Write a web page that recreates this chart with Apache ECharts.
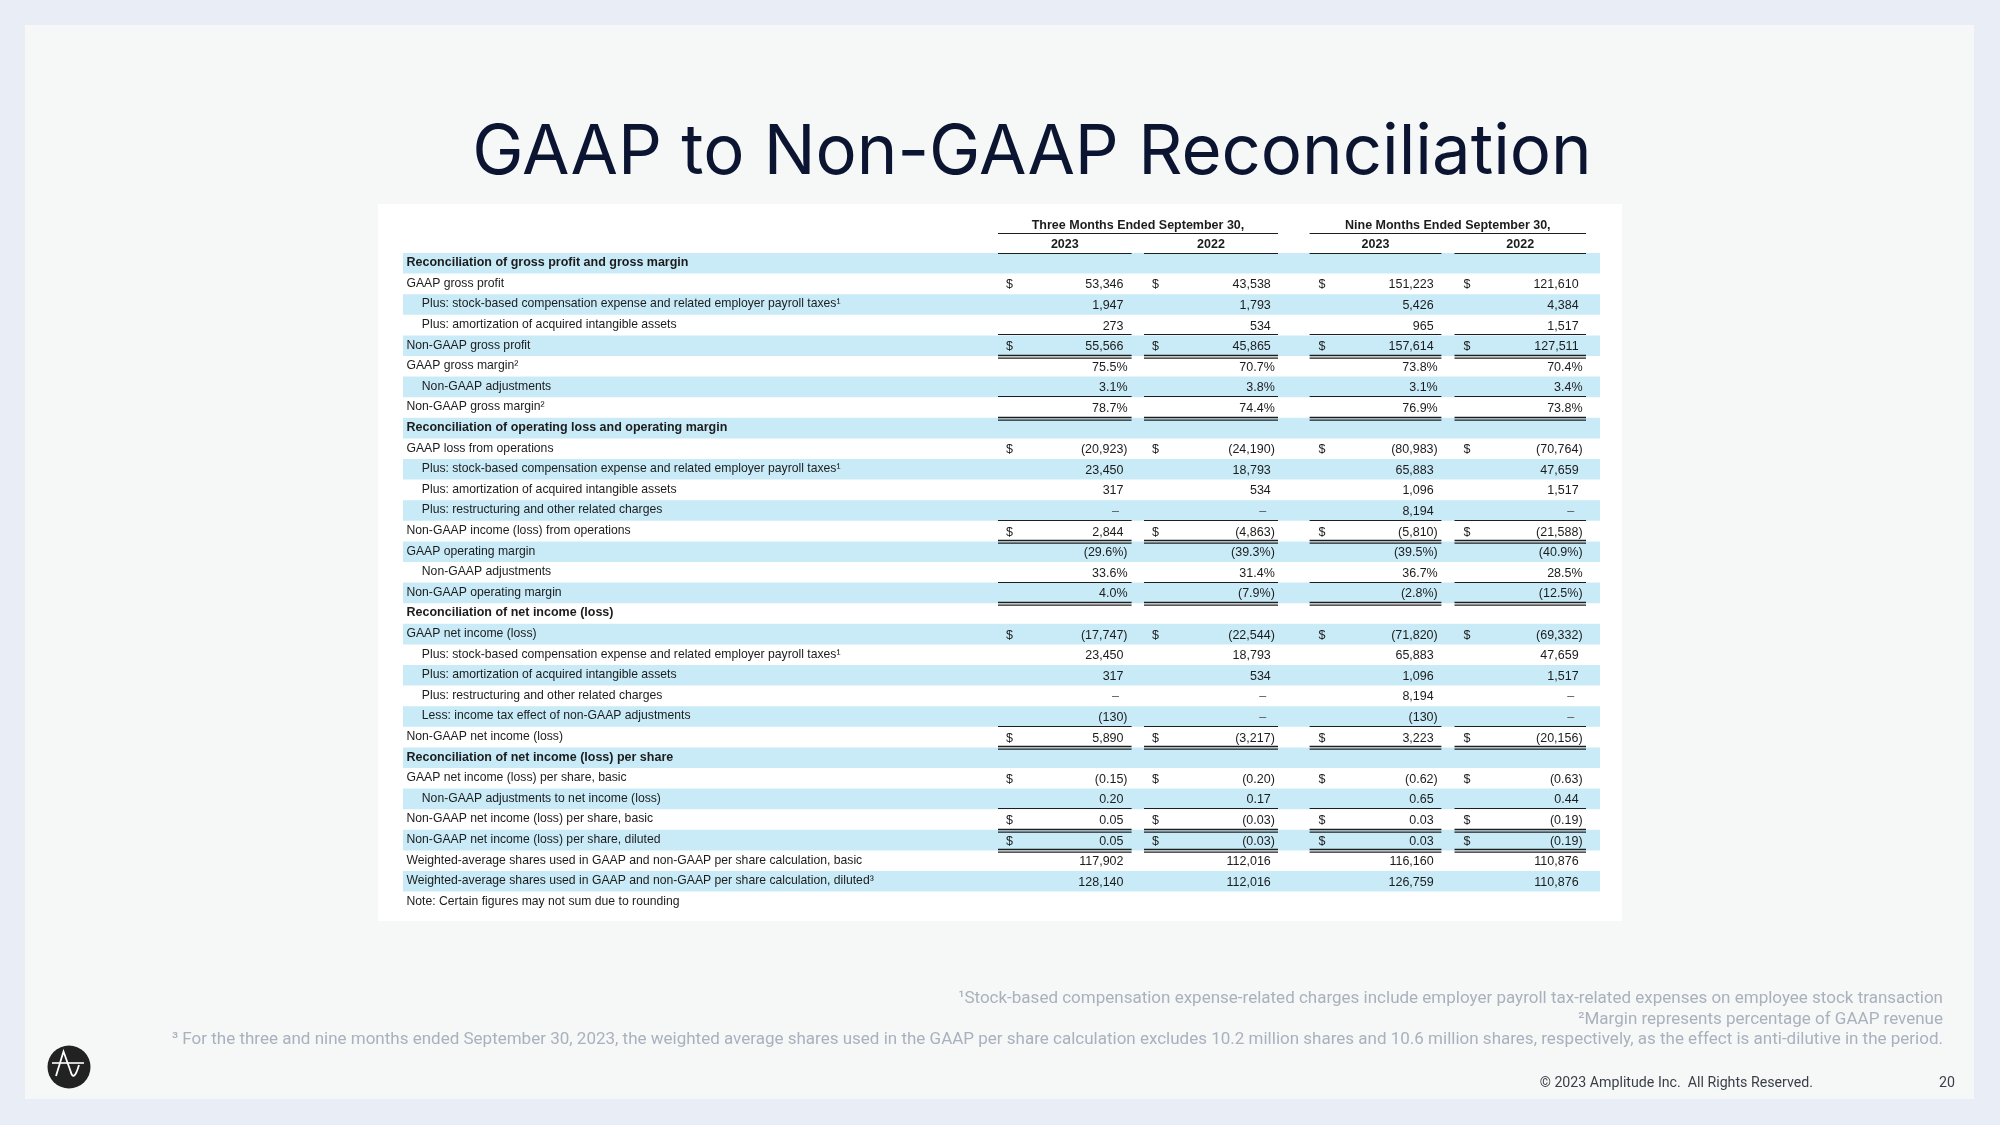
<!DOCTYPE html>
<html><head><meta charset="utf-8">
<script src="https://cdn.jsdelivr.net/npm/echarts@6/dist/echarts.min.js"></script>
<style>html,body{margin:0;padding:0;background:#e9edf5}#c{width:2000px;height:1125px}</style>
</head><body><div id="c"></div><script>
// ---------------- DATA ----------------
const rowLabels = [
  'Reconciliation of gross profit and gross margin',
  'GAAP gross profit',
  'Plus: stock-based compensation expense and related employer payroll taxes\u00b9',
  'Plus: amortization of acquired intangible assets',
  'Non-GAAP gross profit',
  'GAAP gross margin\u00b2',
  'Non-GAAP adjustments',
  'Non-GAAP gross margin\u00b2',
  'Reconciliation of operating loss and operating margin',
  'GAAP loss from operations',
  'Plus: stock-based compensation expense and related employer payroll taxes\u00b9',
  'Plus: amortization of acquired intangible assets',
  'Plus: restructuring and other related charges',
  'Non-GAAP income (loss) from operations',
  'GAAP operating margin',
  'Non-GAAP adjustments',
  'Non-GAAP operating margin',
  'Reconciliation of net income (loss)',
  'GAAP net income (loss)',
  'Plus: stock-based compensation expense and related employer payroll taxes\u00b9',
  'Plus: amortization of acquired intangible assets',
  'Plus: restructuring and other related charges',
  'Less: income tax effect of non-GAAP adjustments',
  'Non-GAAP net income (loss)',
  'Reconciliation of net income (loss) per share',
  'GAAP net income (loss) per share, basic',
  'Non-GAAP adjustments to net income (loss)',
  'Non-GAAP net income (loss) per share, basic',
  'Non-GAAP net income (loss) per share, diluted',
  'Weighted-average shares used in GAAP and non-GAAP per share calculation, basic',
  'Weighted-average shares used in GAAP and non-GAAP per share calculation, diluted\u00b3',
  'Note: Certain figures may not sum due to rounding'
];
const headerGroups = ['Three Months Ended September 30,', 'Nine Months Ended September 30,'];
const headerYears = ['2023', '2022', '2023', '2022'];

// values per column (null = no value, 0 = dash)
const threeMonths2023 = [null, 53346, 1947, 273, 55566, 75.5, 3.1, 78.7, null, -20923, 23450, 317, 0, 2844, -29.6, 33.6, 4.0, null, -17747, 23450, 317, 0, -130, 5890, null, -0.15, 0.20, 0.05, 0.05, 117902, 128140, null];
const threeMonths2022 = [null, 43538, 1793, 534, 45865, 70.7, 3.8, 74.4, null, -24190, 18793, 534, 0, -4863, -39.3, 31.4, -7.9, null, -22544, 18793, 534, 0, 0, -3217, null, -0.20, 0.17, -0.03, -0.03, 112016, 112016, null];
const nineMonths2023 = [null, 151223, 5426, 965, 157614, 73.8, 3.1, 76.9, null, -80983, 65883, 1096, 8194, -5810, -39.5, 36.7, -2.8, null, -71820, 65883, 1096, 8194, -130, 3223, null, -0.62, 0.65, 0.03, 0.03, 116160, 126759, null];
const nineMonths2022 = [null, 121610, 4384, 1517, 127511, 70.4, 3.4, 73.8, null, -70764, 47659, 1517, 0, -21588, -40.9, 28.5, -12.5, null, -69332, 47659, 1517, 0, 0, -20156, null, -0.63, 0.44, -0.19, -0.19, 110876, 110876, null];

// row roles
const sectionRows = [0, 8, 17, 24];
const indentRows = [2, 3, 6, 10, 11, 12, 15, 19, 20, 21, 22, 26];
const percentRows = [5, 6, 7, 14, 15, 16];
const perShareRows = [25, 26, 27, 28];
const dollarRows = [1, 4, 9, 13, 18, 23, 25, 27, 28];
const singleRuleRows = [3, 6, 12, 15, 22, 26];
const doubleRuleRows = [4, 7, 13, 16, 23, 27, 28];

const footnotes = [
  '\u00b9Stock-based compensation expense-related charges include employer payroll tax-related expenses on employee stock transaction',
  '\u00b2Margin represents percentage of GAAP revenue',
  '\u00b3 For the three and nine months ended September 30, 2023, the weighted average shares used in the GAAP per share calculation excludes 10.2 million shares and 10.6 million shares, respectively, as the effect is anti-dilutive in the period.'
];

// ---------------- LAYOUT (grid units = px from grid left) ----------------
const columns = [threeMonths2023, threeMonths2022, nineMonths2023, nineMonths2022];
const GRID_W = 1197;
const COL_RULE = [[595, 728.6], [741, 875], [906.6, 1038.4], [1051.5, 1183]];
const COL_DOLLAR = [603, 749, 915.6, 1060.5];
const COL_VALUE = [720.5, 867.8, 1030.7, 1175.6];
const GROUP_SPAN = [[595, 875], [906.6, 1183]];
const FONT = '"Liberation Sans", Arial, Helvetica, sans-serif';
const TXT = '#1c1c1c';

function fmt(v, row) {
  if (v === 0) return '\u2013';
  const neg = v < 0, a = Math.abs(v);
  let s;
  if (percentRows.includes(row)) s = a.toFixed(1) + '%';
  else if (perShareRows.includes(row)) s = a.toFixed(2);
  else s = a.toLocaleString('en-US');
  return neg ? '(' + s + ')' : s;
}
function txt(x, y, text, font, align, fill) {
  return {type: 'text', x: x, y: y, style: {text: text, font: font, fill: fill || TXT,
    align: align, textAlign: align, verticalAlign: 'middle', textVerticalAlign: 'middle'}};
}

const bandData = rowLabels.map((_, i) => i).filter(i => i % 2 === 0).map(i => [0, i]);
const labelData = rowLabels.map((_, i) => [0, i]);
const valueData = [];
columns.forEach((col, c) => col.forEach((v, i) => { if (v !== null) valueData.push([c, i, v]); }));
const ruleData = [];
singleRuleRows.forEach(r => [0, 1, 2, 3].forEach(c => ruleData.push([c, r, 1])));
doubleRuleRows.forEach(r => [0, 1, 2, 3].forEach(c => ruleData.push([c, r, 2])));
const headerData = [];
headerGroups.forEach((g, k) => headerData.push([k, 0]));
headerYears.forEach((y, k) => headerData.push([k, 1]));

const chart = echarts.init(document.getElementById('c'), null, {renderer: 'canvas'});

const graphic = [
  {type: 'rect', z: -10, shape: {x: 25, y: 25, width: 1949, height: 1074}, style: {fill: '#f6f8f8'}, silent: true},
  {type: 'rect', z: -9, shape: {x: 378, y: 204, width: 1244, height: 717}, style: {fill: '#ffffff'}, silent: true},
  {type: 'text', x: 1032, y: 153, style: {text: 'GAAP to Non-GAAP Reconciliation', font: '400 68.8px Inter, "Open Sans", sans-serif', fill: '#0b1430', align: 'center', verticalAlign: 'middle'}},
  {type: 'text', x: 1943, y: 999, style: {text: footnotes[0], font: '17px Roboto, sans-serif', fill: '#a9b1bd', align: 'right', verticalAlign: 'middle'}},
  {type: 'text', x: 1943, y: 1019.5, style: {text: footnotes[1], font: '17px Roboto, sans-serif', fill: '#a9b1bd', align: 'right', verticalAlign: 'middle'}},
  {type: 'text', x: 1943, y: 1040, style: {text: footnotes[2], font: '17px Roboto, sans-serif', fill: '#a9b1bd', align: 'right', verticalAlign: 'middle'}},
  {type: 'text', x: 1813, y: 1083, style: {text: '\u00a9 2023 Amplitude Inc.  All Rights Reserved.', font: '14.2px Roboto, sans-serif', fill: '#3a3f47', align: 'right', verticalAlign: 'middle'}},
  {type: 'text', x: 1955, y: 1083, style: {text: '20', font: '14.2px Roboto, sans-serif', fill: '#3a3f47', align: 'right', verticalAlign: 'middle'}},
  {type: 'group', x: 69, y: 1067, children: [
    {type: 'circle', shape: {cx: 0, cy: 0, r: 21.5}, style: {fill: '#222222'}},
    {type: 'polyline', shape: {points: [[-13, 9], [-5.5, -15.5], [1.5, 4]]}, style: {fill: null, stroke: '#ffffff', lineWidth: 1.8}},
    {type: 'bezierCurve', shape: {x1: 1.5, y1: 4, cpx1: 3.5, cpy1: 12, cpx2: 6.5, cpy2: 10, x2: 10, y2: -2}, style: {fill: null, stroke: '#ffffff', lineWidth: 1.8}},
    {type: 'line', shape: {x1: -17, y1: -4, x2: 15, y2: -4}, style: {stroke: '#ffffff', lineWidth: 1.6}}
  ]}
];

chart.setOption({
  animation: false,
  backgroundColor: '#e9edf5',
  grid: {left: 403, top: 211.8, width: GRID_W, height: 700.4},
  xAxis: {type: 'value', min: 0, max: GRID_W, show: false},
  yAxis: {type: 'value', min: -2.5, max: 31.5, inverse: true, show: false},
  graphic: graphic,
  series: [
    { // row bands
      type: 'custom', z: 1, silent: true, data: bandData,
      renderItem: (params, api) => {
        const i = api.value(1);
        const p0 = api.coord([0, i - 0.5]);
        const p1 = api.coord([GRID_W, i + 0.5]);
        return {type: 'rect', shape: {x: p0[0], y: p0[1], width: p1[0] - p0[0], height: p1[1] - p0[1]}, style: {fill: '#c9ebf8'}};
      }
    },
    { // header rows
      type: 'custom', z: 3, silent: true, data: headerData,
      renderItem: (params, api) => {
        const k = api.value(0), lvl = api.value(1);
        const span = lvl === 0 ? GROUP_SPAN[k] : COL_RULE[k];
        const text = lvl === 0 ? headerGroups[k] : headerYears[k];
        const ty = lvl === 0 ? -1.84 : -0.93;
        const ly = lvl === 0 ? -1.45 : -0.5;
        const a = api.coord([span[0], ty]), b = api.coord([span[1], ly]);
        const ca = api.coord([span[0], ly]);
        return {type: 'group', children: [
          txt((a[0] + b[0]) / 2, a[1], text, 'bold 12.5px ' + FONT, 'center'),
          {type: 'line', shape: {x1: ca[0], y1: Math.round(ca[1]) + 0.5, x2: b[0], y2: Math.round(b[1]) + 0.5}, style: {stroke: '#1e1e1e', lineWidth: 1.2}}
        ]};
      }
    },
    { // row labels
      type: 'custom', z: 3, silent: true, data: labelData,
      renderItem: (params, api) => {
        const i = api.value(1);
        const indent = indentRows.includes(i);
        const bold = sectionRows.includes(i);
        const p = api.coord([indent ? 18.8 : 3.5, i]);
        return txt(p[0], p[1] - 0.5, rowLabels[i], bold ? 'bold 12.5px ' + FONT : '12.2px ' + FONT, 'left');
      }
    },
    { // values and $ signs
      type: 'custom', z: 3, silent: true, data: valueData,
      renderItem: (params, api) => {
        const c = api.value(0), i = api.value(1), v = api.value(2);
        const s = fmt(v, i);
        let off = 0;
        if (v === 0) off = -4.5;
        else if (s.endsWith(')') || s.endsWith('%')) off = 4;
        const p = api.coord([COL_VALUE[c] + off, i]);
        const children = [txt(p[0], p[1] + 1, s, '12.5px ' + FONT, 'right', v === 0 ? '#555' : TXT)];
        if (dollarRows.includes(i)) {
          const d = api.coord([COL_DOLLAR[c], i]);
          children.push(txt(d[0], d[1] + 1, '$', '12.5px ' + FONT, 'left'));
        }
        return {type: 'group', children: children};
      }
    },
    { // underline rules
      type: 'custom', z: 4, silent: true, data: ruleData,
      renderItem: (params, api) => {
        const c = api.value(0), i = api.value(1), kind = api.value(2);
        const a = api.coord([COL_RULE[c][0], i + 0.5]);
        const b = api.coord([COL_RULE[c][1], i + 0.5]);
        const y = Math.round(a[1]);
        const lines = [];
        if (kind === 1) {
          lines.push({type: 'line', shape: {x1: a[0], y1: y - 0.5, x2: b[0], y2: y - 0.5}, style: {stroke: '#1e1e1e', lineWidth: 1.2}});
        } else {
          lines.push({type: 'line', shape: {x1: a[0], y1: y - 0.5, x2: b[0], y2: y - 0.5}, style: {stroke: '#1e1e1e', lineWidth: 1.3}});
          lines.push({type: 'line', shape: {x1: a[0], y1: y + 2.2, x2: b[0], y2: y + 2.2}, style: {stroke: '#1e1e1e', lineWidth: 1.3}});
        }
        return {type: 'group', children: lines};
      }
    }
  ]
});
</script></body></html>
